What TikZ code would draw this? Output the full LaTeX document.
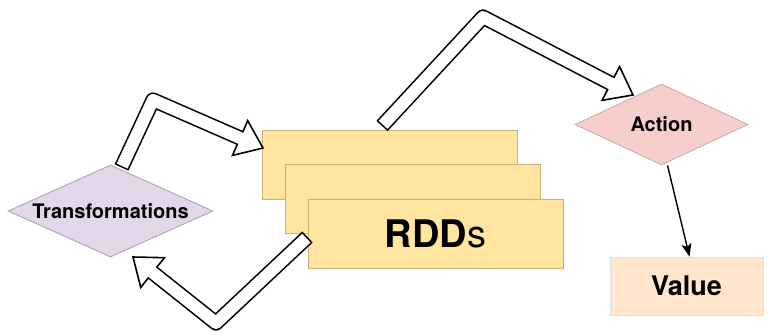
\documentclass[tikz,border=0pt]{standalone}
\usepackage{fontspec}
\setmainfont{TeX Gyre Heros}
\usetikzlibrary{shapes.geometric,arrows.meta,calc}

\definecolor{rddfill}{HTML}{FFE59F}
\definecolor{rdddraw}{HTML}{C8B27A}
\definecolor{transfill}{HTML}{E2D6E8}
\definecolor{transdraw}{HTML}{A79FB0}
\definecolor{actfill}{HTML}{F6CFCC}
\definecolor{actdraw}{HTML}{C4AAA8}
\definecolor{valfill}{HTML}{FFE6CC}
\definecolor{valdraw}{HTML}{D3E3F5}

\tikzset{
  rddbox/.style={draw=rdddraw, fill=rddfill, line width=0.8pt,
    minimum width=255pt, minimum height=69pt, inner sep=0pt},
  decision/.style={diamond, line width=0.8pt, inner sep=0pt},
  valbox/.style={draw=valdraw, fill=valfill, line width=0.8pt,
    minimum width=153pt, minimum height=58pt, inner sep=0pt},
  lbl/.style={font=\bfseries\fontsize{20}{24}\selectfont},
  flowline/.style={line width=1.4pt, -{Stealth[length=13pt,width=10pt,inset=3pt]}}
}

% hollow bent block arrow: start, bend, tip
\newcommand\blockarrow[3]{%
  \coordinate (hb) at ($(#3)!25pt!(#2)$);
  \coordinate (hl) at ($(hb)!19pt!90:(#3)$);
  \coordinate (hr) at ($(hb)!19pt!-90:(#3)$);
  \draw[black, line width=15.2pt, line join=round] (#1) -- (#2) -- (hb);
  \filldraw[fill=white, draw=black, line width=1.6pt, line join=miter] (hl) -- (#3) -- (hr) -- cycle;
  \draw[white, line width=12pt, line join=round, shorten <=1.6pt]
    (#1) -- (#2) -- ($(hb)!2pt!(#3)$);
}

\begin{document}
\begin{tikzpicture}[x=1pt, y=-1pt]
  \useasboundingbox (0,0) rectangle (768,335);

  % stacked RDD cards
  \node[rddbox] (rdd1) at (389.5,165) {};
  \node[rddbox] (rdd2) at (412.5,199) {};
  \node[rddbox] (rdd3) at (435.5,234)
    {\fontsize{38}{44}\selectfont\textbf{RDD}s};

  % decisions
  \node[decision, draw=transdraw, fill=transfill,
        minimum width=205pt, minimum height=92pt,
        label={[lbl]center:Transformations}] (trans) at (110.5,211) {};
  \node[decision, draw=actdraw, fill=actfill,
        minimum width=173pt, minimum height=81pt,
        label={[lbl]center:Action}] (act) at (661.5,124.5) {};

  % result
  \node[valbox] (val) at (686.5,286)
    {\bfseries\fontsize{27}{32}\selectfont Value};

  \draw[flowline] ([xshift=6pt]act.south) -- ([xshift=3pt]val.north);

  % block arrow anchor points
  \coordinate (a1s) at (121.5,167.5);
  \coordinate (a1b) at (153,100);
  \coordinate (a1t) at (263,148);
  \coordinate (a2s) at (382,126);
  \coordinate (a2b) at (483,17);
  \coordinate (a2t) at (633,95);
  \coordinate (a3s) at (307.5,237);
  \coordinate (a3b) at (216,323);
  \coordinate (a3t) at (133,257);

  \blockarrow{a1s}{a1b}{a1t}
  \blockarrow{a2s}{a2b}{a2t}
  \blockarrow{a3s}{a3b}{a3t}
\end{tikzpicture}
\end{document}
